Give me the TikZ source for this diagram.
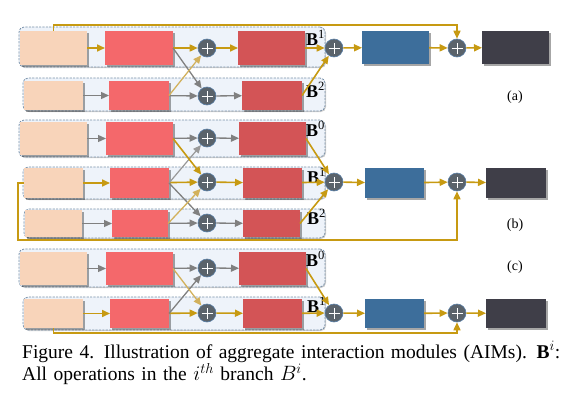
\documentclass[tikz,border=0pt]{standalone}
\usepackage{fontspec}
\setmainfont{Liberation Serif}
\usetikzlibrary{arrows.meta,shadows}
\definecolor{peach}{HTML}{F8D4BA}
\definecolor{lred}{HTML}{F4686B}
\definecolor{dred}{HTML}{D35456}
\definecolor{cblue}{HTML}{3D6E9B}
\definecolor{cdark}{HTML}{3F3E48}
\definecolor{cfill}{HTML}{EEF3FA}
\definecolor{cedge}{HTML}{7890A8}
\definecolor{cgold}{HTML}{C79A12}
\definecolor{lgold}{HTML}{D2B15C}
\definecolor{cgray}{HTML}{808080}
\definecolor{lgray}{HTML}{999999}
\definecolor{pfill}{HTML}{5A636B}
\definecolor{pedge}{HTML}{5B80A8}
\tikzset{
 bsz/.style 2 args={minimum width=#1pt, minimum height=#2pt},
 boxbase/.style={rectangle, inner sep=0pt, outer sep=0pt, drop shadow={shadow xshift=1.5pt, shadow yshift=-1.5pt, opacity=0.35, fill=black}},
 pbox/.style={boxbase, fill=peach},
 rbox/.style={boxbase, fill=lred},
 dbox/.style={boxbase, fill=dred},
 bbox/.style={boxbase, fill=cblue},
 kbox/.style={boxbase, fill=cdark},
 branchbox/.style={rectangle, rounded corners=5pt, draw=cedge, fill=cfill, line width=0.8pt, dash pattern=on 2.2pt off 1.2pt, inner sep=0pt, drop shadow={shadow xshift=1pt, shadow yshift=-1pt, opacity=0.2, fill=black}},
 addop/.style={circle, fill=pfill, draw=pedge, line width=0.6pt, minimum size=18pt, inner sep=0pt,
   path picture={\draw[white, line width=0.9pt] ([xshift=-5.5pt]path picture bounding box.center) -- ([xshift=5.5pt]path picture bounding box.center) ([yshift=-5.5pt]path picture bounding box.center) -- ([yshift=5.5pt]path picture bounding box.center);}},
 ga/.style={draw=cgold, line width=1.6pt, -{Triangle[length=8pt,width=7pt]}},
 gra/.style={draw=cgray, line width=1.3pt, -{Triangle[length=8pt,width=7pt]}},
 lga/.style={draw=lgold, line width=1.3pt, -{Triangle[length=8pt,width=7pt]}},
 lgra/.style={draw=lgray, line width=1.2pt, -{Triangle[length=8pt,width=7pt]}},
 blab/.style={anchor=base west, inner sep=0pt, font=\fontsize{18}{20}\selectfont},
 sublab/.style={inner sep=0pt, font=\fontsize{14}{16}\selectfont},
 capt/.style={anchor=base west, inner sep=0pt, text width=540pt, align=left, font=\fontsize{19.5}{21}\selectfont},
}
\begin{document}
\begin{tikzpicture}[x=1pt, y=-1pt]
\useasboundingbox (0,0) rectangle (566,394);
% ---------------- (a)
\node[branchbox, bsz={306}{40}] (ca1) at (172,47) {};
\node[branchbox, bsz={302}{33}] (ca2) at (174,94.5) {};
\node[pbox, bsz={67}{34}] (pa1) at (53.5,48) {};
\node[rbox, bsz={68}{34}] (ra1) at (139,48) {};
\node[addop] (qa1) at (207,48) {};
\node[dbox, bsz={67}{34}] (da1) at (271.5,48) {};
\node[blab] (lba1) at (306,45) {\textbf{B}\textsuperscript{1}};
\node[pbox, bsz={59}{29}] (pa2) at (53.5,95.5) {};
\node[rbox, bsz={60}{29}] (ra2) at (139,95.5) {};
\node[addop] (qa2) at (207,96) {};
\node[dbox, bsz={60}{29}] (da2) at (272,95.5) {};
\node[blab] (lba2) at (306,97) {\textbf{B}\textsuperscript{2}};
\node[addop] (sa) at (334,48) {};
\node[bbox, bsz={67}{33}] (ba) at (395.5,47.5) {};
\node[addop] (ta) at (457,48) {};
\node[kbox, bsz={67}{33}] (ka) at (515.5,47.5) {};
\node[sublab] (la) at (515,97) {(a)};
\draw[ga] (pa1) -- (ra1);
\draw[ga] (ra1) -- (qa1);
\draw[ga] (qa1) -- (da1);
\draw[ga] (da1) -- (sa);
\draw[ga] (sa) -- (ba);
\draw[ga] (ba) -- (ta);
\draw[ga] (ta) -- (ka);
\draw[gra] (pa2) -- (ra2);
\draw[gra] (ra2) -- (qa2);
\draw[gra] (qa2) -- (da2);
\draw[ga] (da2.east) -- (sa);
\draw[gra] (ra1.east) -- (qa2);
\draw[lga] (ra2.east) -- (qa1);
\draw[ga] (pa1.north) -- ++(0,-6) -| (ta);
% ---------------- (b)
\node[branchbox, bsz={306}{37}] (cb0) at (172,138.5) {};
\node[branchbox, bsz={302}{32}] (cb1) at (174,183) {};
\node[branchbox, bsz={301}{29}] (cb2) at (174.5,223.5) {};
\node[pbox, bsz={67}{33}] (pb0) at (53.5,138.5) {};
\node[rbox, bsz={67}{33}] (rb0) at (139.5,138.5) {};
\node[addop] (qb0) at (207,138) {};
\node[dbox, bsz={67}{33}] (db0) at (272.5,138.5) {};
\node[blab] (lbb0) at (306,136) {\textbf{B}\textsuperscript{0}};
\node[pbox, bsz={59}{30}] (pb1) at (53.5,183) {};
\node[rbox, bsz={59}{30}] (rb1) at (139.5,183) {};
\node[addop] (qb1) at (207,182) {};
\node[dbox, bsz={59}{30}] (db1) at (272.5,183) {};
\node[blab] (lbb1) at (307,183) {\textbf{B}\textsuperscript{1}};
\node[pbox, bsz={57}{27}] (pb2) at (53.5,223.5) {};
\node[rbox, bsz={56}{27}] (rb2) at (140,223.5) {};
\node[addop] (qb2) at (207,223) {};
\node[dbox, bsz={57}{27}] (db2) at (271.5,223.5) {};
\node[blab] (lbb2) at (307,224) {\textbf{B}\textsuperscript{2}};
\node[addop] (sb) at (334,182) {};
\node[bbox, bsz={59}{30}] (bb) at (394.5,183) {};
\node[addop] (tb) at (457,182) {};
\node[kbox, bsz={60}{30}] (kb) at (516,183) {};
\node[sublab] (lb) at (515,225) {(b)};
\draw[gra] (pb0) -- (rb0);
\draw[gra] (rb0) -- (qb0);
\draw[gra] (qb0) -- (db0);
\draw[ga] (pb1) -- (rb1);
\draw[ga] (rb1) -- (qb1);
\draw[ga] (qb1) -- (db1);
\draw[ga] (db1) -- (sb);
\draw[ga] (sb) -- (bb);
\draw[ga] (bb) -- (tb);
\draw[ga] (tb) -- (kb);
\draw[gra] (pb2) -- (rb2);
\draw[gra] (rb2) -- (qb2);
\draw[gra] (qb2) -- (db2);
\draw[lgra] (rb1.east) -- (qb0);
\draw[gra] (rb1.east) -- (qb2);
\draw[ga] (rb0.east) -- (qb1);
\draw[lga] (rb2.east) -- (qb1);
\draw[ga] (db0.east) -- (sb);
\draw[ga] (db2.east) -- (sb);
\coordinate (lpb) at (18,240);
\draw[ga] (pb1.west) -| (lpb) -| (tb);
% ---------------- (c)
\node[branchbox, bsz={306}{38}] (cc0) at (172,268) {};
\node[branchbox, bsz={302}{33}] (cc1) at (174,313.5) {};
\node[pbox, bsz={67}{33}] (pc0) at (53.5,268.5) {};
\node[rbox, bsz={67}{33}] (rc0) at (139.5,268.5) {};
\node[addop] (qc0) at (207,268) {};
\node[dbox, bsz={67}{33}] (dc0) at (272.5,268.5) {};
\node[blab] (lbc0) at (306,266) {\textbf{B}\textsuperscript{0}};
\node[pbox, bsz={59}{29}] (pc1) at (53.5,313.5) {};
\node[rbox, bsz={59}{29}] (rc1) at (139.5,313.5) {};
\node[addop] (qc1) at (207,313) {};
\node[dbox, bsz={59}{29}] (dc1) at (272.5,313.5) {};
\node[blab] (lbc1) at (307,312) {\textbf{B}\textsuperscript{1}};
\node[addop] (sc) at (334,313) {};
\node[bbox, bsz={59}{29}] (bc) at (394.5,313.5) {};
\node[addop] (tc) at (457,313) {};
\node[kbox, bsz={60}{29}] (kc) at (516,313.5) {};
\node[sublab] (lc) at (515,267) {(c)};
\draw[gra] (pc0) -- (rc0);
\draw[gra] (rc0) -- (qc0);
\draw[gra] (qc0) -- (dc0);
\draw[ga] (pc1) -- (rc1);
\draw[ga] (rc1) -- (qc1);
\draw[ga] (qc1) -- (dc1);
\draw[ga] (dc1) -- (sc);
\draw[ga] (sc) -- (bc);
\draw[ga] (bc) -- (tc);
\draw[ga] (tc) -- (kc);
\draw[gra] (rc1.east) -- (qc0);
\draw[lga] (rc0.east) -- (qc1);
\draw[ga] (dc0.east) -- (sc);
\coordinate (lpc) at (53.5,333);
\draw[ga] (pc1.south) -- (lpc) -| (tc);
% ---------------- caption
\node[capt] (cap) at (22,358) {Figure 4. Illustration of aggregate interaction modules (AIMs). \textbf{B}$^{i}$:\\All operations in the $i^{th}$ branch $B^{i}$.};
\end{tikzpicture}
\end{document}
